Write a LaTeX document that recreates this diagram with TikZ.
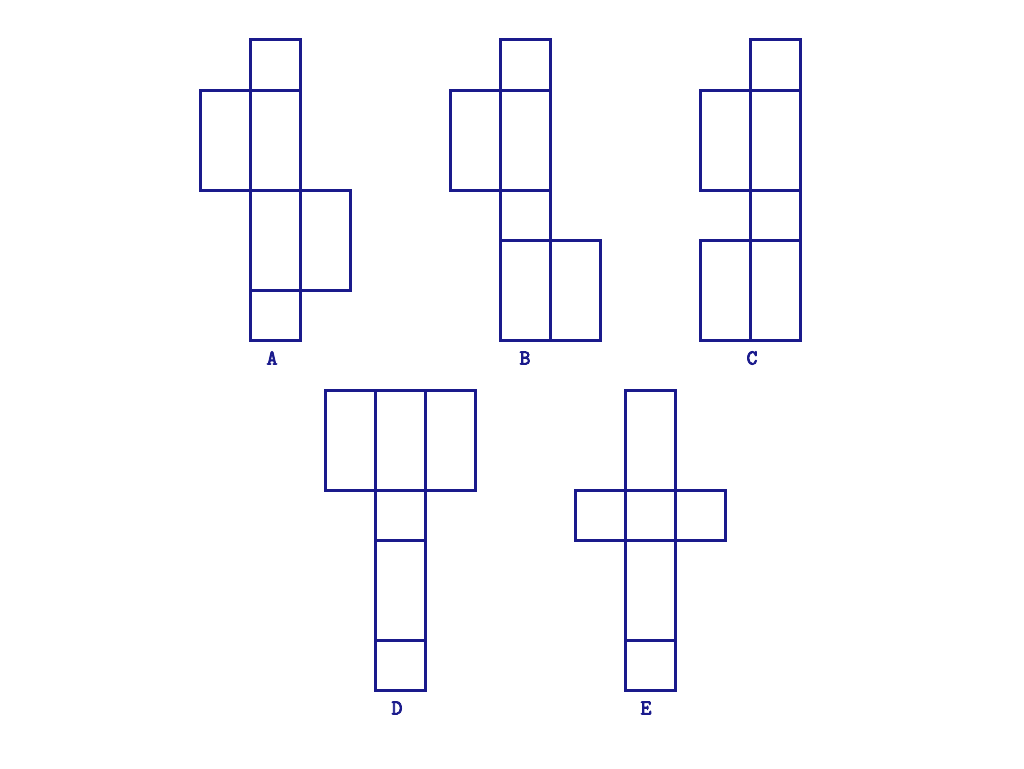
\documentclass[tikz,border=0pt]{standalone}
\usepackage{fontspec}
\newfontfamily\labfont{Latin Modern Mono}[FakeBold=4]
\definecolor{navy}{RGB}{26,26,140}
\begin{document}
\begin{tikzpicture}[x=1pt,y=-1pt,
  cell/.style={draw=navy,line width=3pt,inner sep=0pt,outer sep=0pt,minimum width=50pt,minimum height=50pt},
  tall/.style={cell,minimum height=100pt},
  lab/.style={text=navy,font=\labfont\fontsize{21}{24}\selectfont,inner sep=0pt}]
\useasboundingbox (0,0) rectangle (1024,768);
% A
\node[cell] (a1) at (275,65) {};
\node[tall] (a2) at (225,140) {};
\node[tall] (a3) at (275,140) {};
\node[tall] (a4) at (275,240) {};
\node[tall] (a5) at (325,240) {};
\node[cell] (a6) at (275,315) {};
\node[lab] (la) at (272,358) {A};
% B
\node[cell] (b1) at (525,65) {};
\node[tall] (b2) at (475,140) {};
\node[tall] (b3) at (525,140) {};
\node[cell] (b4) at (525,215) {};
\node[tall] (b5) at (525,290) {};
\node[tall] (b6) at (575,290) {};
\node[lab] (lb) at (525,358) {B};
% C
\node[cell] (c1) at (775,65) {};
\node[tall] (c2) at (725,140) {};
\node[tall] (c3) at (775,140) {};
\node[cell] (c4) at (775,215) {};
\node[tall] (c5) at (725,290) {};
\node[tall] (c6) at (775,290) {};
\node[lab] (lc) at (752,358) {C};
% D
\node[tall] (d1) at (350,440) {};
\node[tall] (d2) at (400,440) {};
\node[tall] (d3) at (450,440) {};
\node[cell] (d4) at (400,515) {};
\node[tall] (d5) at (400,590) {};
\node[cell] (d6) at (400,665) {};
\node[lab] (ld) at (397,708) {D};
% E
\node[tall] (e1) at (650,440) {};
\node[cell] (e2) at (600,515) {};
\node[cell] (e3) at (650,515) {};
\node[cell] (e4) at (700,515) {};
\node[tall] (e5) at (650,590) {};
\node[cell] (e6) at (650,665) {};
\node[lab] (le) at (646,708) {E};
\end{tikzpicture}
\end{document}
